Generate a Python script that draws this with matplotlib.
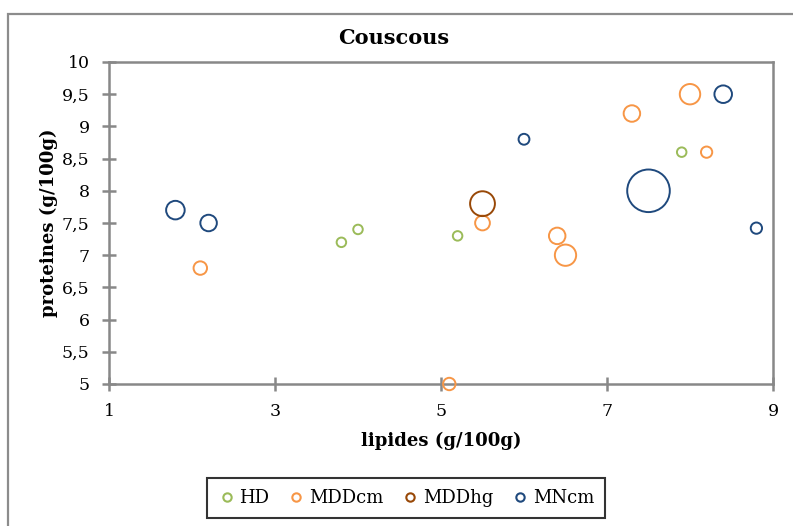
import matplotlib
matplotlib.use("Agg")
import matplotlib.pyplot as plt
from matplotlib.patches import Rectangle

plt.rcParams['font.family'] = ['DejaVu Serif']

# lipides (x), proteines (y), bubble size per series
hd_x = [3.8, 4.0, 5.2, 7.9]
hd_y = [7.2, 7.4, 7.3, 8.6]
hd_s = [5, 5, 5, 5]

mddcm_x = [2.1, 5.1, 5.5, 6.4, 6.5, 7.3, 8.0, 8.2]
mddcm_y = [6.8, 5.0, 7.5, 7.3, 7.0, 9.2, 9.5, 8.6]
mddcm_s = [10, 8.5, 12, 15, 25, 15, 23, 7]

mddhg_x = [5.5]
mddhg_y = [7.8]
mddhg_s = [34]

mncm_x = [1.8, 2.2, 6.0, 7.5, 8.4, 8.8]
mncm_y = [7.7, 7.5, 8.8, 8.0, 9.5, 7.42]
mncm_s = [19, 15, 6.5, 100, 17, 7]

series = [
    ("HD", hd_x, hd_y, hd_s, "#9BBB59"),
    ("MDDcm", mddcm_x, mddcm_y, mddcm_s, "#F79646"),
    ("MDDhg", mddhg_x, mddhg_y, mddhg_s, "#984807"),
    ("MNcm", mncm_x, mncm_y, mncm_s, "#1F497D"),
]

x_ticks = [1, 3, 5, 7, 9]
y_ticks = [5, 5.5, 6, 6.5, 7, 7.5, 8, 8.5, 9, 9.5, 10]

fig = plt.figure(figsize=(7.93, 5.26), dpi=100)
ax = fig.add_axes([109 / 793, 1 - 384 / 526, (773 - 109) / 793, (384 - 62) / 526])

# outer chart frame
fig.patches.append(Rectangle((8 / 793, -0.1), 1.2, 1 - 14 / 526 + 0.1,
                             transform=fig.transFigure, fill=False,
                             edgecolor="#8C8C8C", linewidth=1.6))

area_scale = 9.4
for name, xs, ys, ss, col in series:
    ax.scatter(xs, ys, s=[v * area_scale for v in ss], facecolors="none",
               edgecolors=col, linewidths=1.4, clip_on=False, zorder=3)

ax.set_xlim(1, 9)
ax.set_ylim(5, 10)
ax.set_xticks(x_ticks)
ax.set_xticklabels([str(v) for v in x_ticks])
ax.set_yticks(y_ticks)
ax.set_yticklabels([("%g" % v).replace(".", ",") for v in y_ticks])

for sp in ax.spines.values():
    sp.set_color("#888888")
    sp.set_linewidth(1.8)
ax.tick_params(direction="inout", length=10, width=1.8, color="#888888",
               labelsize=12.5, labelcolor="black")
ax.tick_params(axis="y", pad=9)
ax.tick_params(axis="x", pad=9)

fig.text(394 / 793, 1 - 38 / 526, "Couscous", fontsize=15, fontweight="bold",
         ha="center", va="center")
ax.set_xlabel("lipides (g/100g)", fontsize=13, fontweight="bold", labelpad=8)
ax.set_ylabel("proteines (g/100g)", fontsize=13, fontweight="bold", labelpad=3)

handles = [plt.Line2D([], [], linestyle="none", marker="o", markersize=6,
                      markerfacecolor="none", markeredgecolor=col,
                      markeredgewidth=1.5, label=name)
           for name, _, _, _, col in series]
leg = fig.legend(handles=handles, loc="center", bbox_to_anchor=(406 / 793, 1 - 498 / 526),
                 ncol=4, frameon=True, fancybox=False, fontsize=13,
                 handletextpad=0.2, columnspacing=1.0, handlelength=1.0,
                 borderpad=0.6)
leg.get_frame().set_edgecolor("black")
leg.get_frame().set_linewidth(1.5)

fig.savefig("out.png", dpi=100)
